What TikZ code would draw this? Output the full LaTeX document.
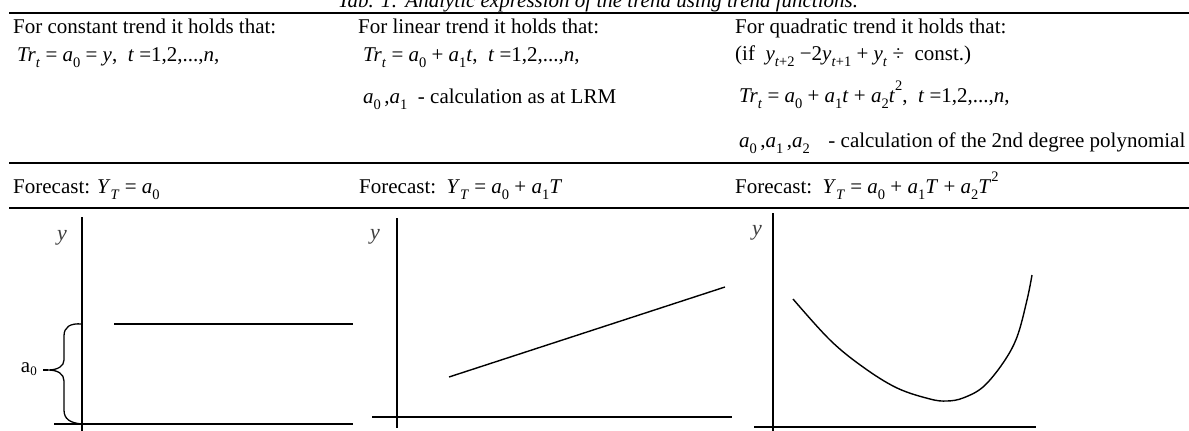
\documentclass[tikz,border=0pt]{standalone}
\usepackage{fontspec}
\setmainfont{Liberation Serif}
\newcommand\vI[1]{\textit{#1}}
\newcommand\sB[1]{\raisebox{-0.32em}{\fontsize{14.5}{14.5}\selectfont #1}}
\newcommand\sP[1]{\raisebox{0.55em}{\fontsize{14.5}{14.5}\selectfont #1}}
\begin{document}
\begin{tikzpicture}[x=1pt,y=-1pt,
  txt/.style={anchor=base west,inner sep=0pt,font=\fontsize{21}{25}\selectfont},
  ttl/.style={anchor=base,inner sep=0pt,font=\fontsize{21}{25}\selectfont\itshape},
  ylab/.style={inner sep=0pt,text=black!75,font=\fontsize{22}{25}\selectfont\itshape},
  rulel/.style={line width=2pt},
  axisl/.style={line width=1.9pt},
  plotl/.style={line width=1.4pt},
  bracel/.style={line width=1.3pt}]
\useasboundingbox (0,0) rectangle (1189,431);
% title
\node[ttl] (title) at (598,7) {Tab. 1: Analytic expression of the trend using trend functions.};
% rules
\draw[rulel] (9,13) -- (1189,13);
\draw[rulel] (9,163) -- (1189,163);
\draw[rulel] (9,208) -- (1189,208);
% column 1
\node[txt] (c1a) at (13,33) {For constant trend it holds that:};
\node[txt] (c1b) at (17,61) {\vI{Tr}\sB{\vI{t}} = \vI{a}\sB{0} = \vI{y},\ \ \vI{t} =1,2,...,\vI{n},};
% column 2
\node[txt] (c2a) at (358,33) {For linear trend it holds that:};
\node[txt] (c2b) at (363,61) {\vI{Tr}\sB{\vI{t}} = \vI{a}\sB{0} + \vI{a}\sB{1}\vI{t},\ \ \vI{t} =1,2,...,\vI{n},};
\node[txt] (c2c) at (363,103) {\vI{a}\sB{0}\,,\vI{a}\sB{1}\ \ - calculation as at LRM};
% column 3
\node[txt] (c3a) at (735,33) {For quadratic trend it holds that:};
\node[txt] (c3b) at (735,60) {(if\ \ \vI{y}\sB{\vI{t}+2} −2\vI{y}\sB{\vI{t}+1} + \vI{y}\sB{\vI{t}} ÷\ \ const.)};
\node[txt] (c3c) at (739,102) {\vI{Tr}\sB{\vI{t}} = \vI{a}\sB{0} + \vI{a}\sB{1}\vI{t} + \vI{a}\sB{2}\vI{t}\sP{2},\ \ \vI{t} =1,2,...,\vI{n},};
\node[txt] (c3d) at (739,147) {\vI{a}\sB{0}\,,\vI{a}\sB{1}\,,\vI{a}\sB{2}\ \ \hspace{8pt}- calculation of the 2nd degree polynomial};
% forecast row
\node[txt] (f1) at (13,193) {Forecast: \vI{Y}\sB{\vI{T}} = \vI{a}\sB{0}};
\node[txt] (f2) at (359,193) {Forecast:\ \ \vI{Y}\sB{\vI{T}} = \vI{a}\sB{0} + \vI{a}\sB{1}\vI{T}};
\node[txt] (f3) at (735,193) {Forecast:\ \ \vI{Y}\sB{\vI{T}} = \vI{a}\sB{0} + \vI{a}\sB{1}\vI{T} + \vI{a}\sB{2}\vI{T}\sP{2}};
% graph 1
\draw[axisl] (82,217) -- (82,431);
\draw[axisl] (54,424) -- (353,424);
\draw[plotl] (114,324) -- (353,324);
\node[ylab] (y1) at (62,238) {y};
\draw[bracel] (82,324) .. controls (70,323) and (64,327) .. (64,336) -- (64,360)
  .. controls (64,366) and (58,370) .. (48,370)
  .. controls (58,370) and (64,374) .. (64,381) -- (64,410)
  .. controls (64,419) and (70,423) .. (82,424);
\node[inner sep=0pt,anchor=east,font=\fontsize{21}{24}\selectfont] (a0) at (37,369) {a\raisebox{-0.12em}{\fontsize{13}{13}\selectfont 0}};
\coordinate (tip) at (48,370);
\draw[bracel] (tip) -- ++(-5,0);
% graph 2
\draw[axisl] (397,218) -- (397,428);
\draw[axisl] (372,417) -- (732,417);
\draw[plotl] (449,377) -- (725,287);
\node[ylab] (y2) at (375,237) {y};
% graph 3
\draw[axisl] (773,213) -- (773,431);
\draw[axisl] (754,427) -- (1036,427);
\node[ylab] (y3) at (757,233) {y};
\draw[plotl] plot[smooth,tension=0.6] coordinates {(793,299) (830,340) (863,367) (897,388) (930,399) (947,401) (963,398) (983,387) (1003,363) (1017,337) (1027,300) (1032,275)};
\end{tikzpicture}
\end{document}
